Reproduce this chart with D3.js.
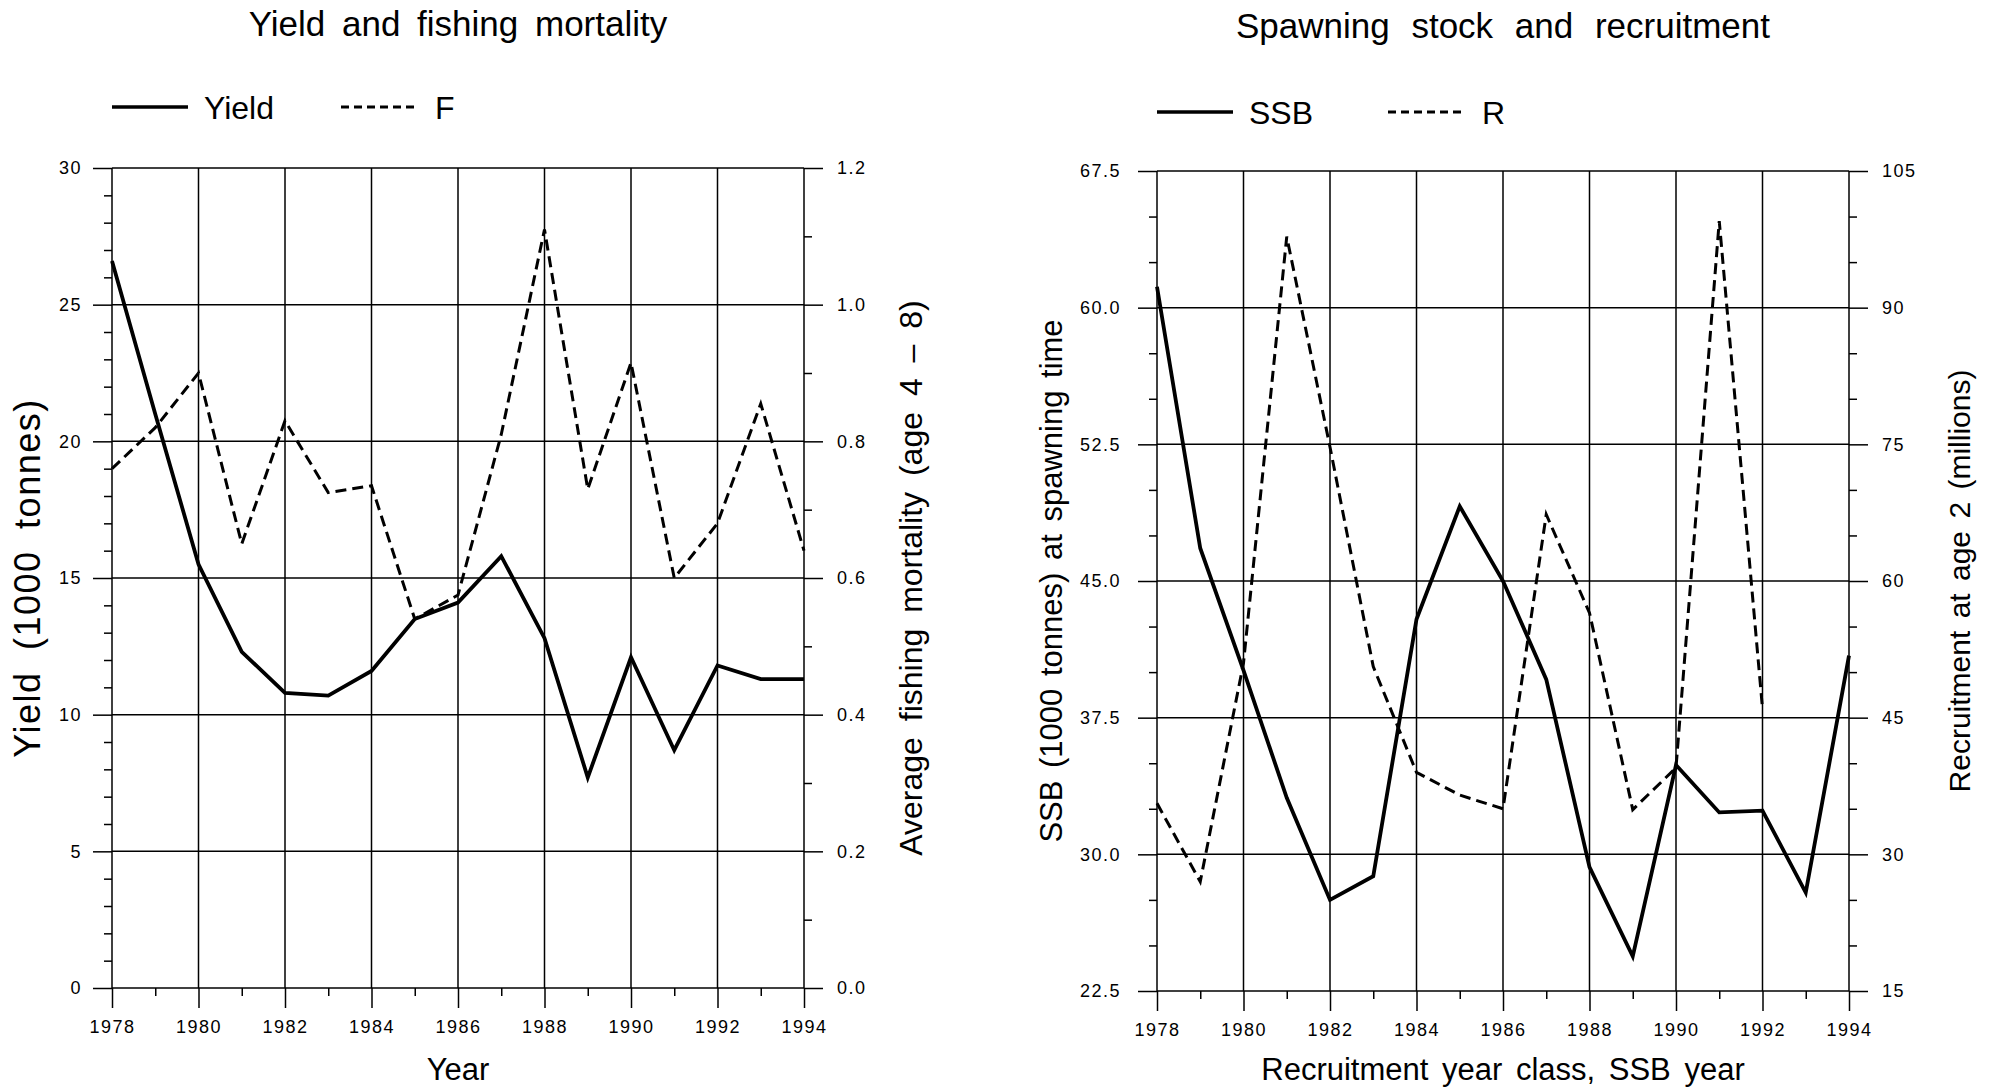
<!DOCTYPE html>
<html>
<head>
<meta charset="utf-8">
<script src="https://cdn.jsdelivr.net/npm/d3@7"></script>
<style>
  html, body { margin: 0; padding: 0; background: #fff; }
  svg { display: block; }
  .big { font-family: "Liberation Sans", Arial, sans-serif; fill: #000; }
  .tick text { font-family: "Liberation Sans", Arial, sans-serif; font-size: 18px; letter-spacing: 1.5px; fill: #000; }
  .tick line { stroke: #000; stroke-width: 1.5; }
  .grid { stroke: #000; stroke-width: 1.5; fill: none; }
</style>
</head>
<body>
<script>
// Years shared by both panels
const years = [1978, 1979, 1980, 1981, 1982, 1983, 1984, 1985, 1986, 1987, 1988, 1989, 1990, 1991, 1992, 1993, 1994];
const evenYears = [1978, 1980, 1982, 1984, 1986, 1988, 1990, 1992, 1994];
const oddYears = [1979, 1981, 1983, 1985, 1987, 1989, 1991, 1993];

// Yield (1000 tonnes) and average fishing mortality F (age 4-8)
const yieldValues = [26.6, 21.0, 15.5, 12.3, 10.8, 10.7, 11.6, 13.5, 14.1, 15.8, 12.8, 7.7, 12.1, 8.7, 11.8, 11.3, 11.3];
const fValues = [0.76, 0.82, 0.90, 0.65, 0.83, 0.725, 0.735, 0.54, 0.575, 0.81, 1.11, 0.73, 0.915, 0.60, 0.68, 0.855, 0.64];

// Spawning stock biomass (1000 tonnes) and recruitment at age 2 (millions)
const ssbValues = [61.15, 46.8, 40.1, 33.1, 27.5, 28.8, 42.9, 49.1, 45.0, 39.6, 29.3, 24.4, 34.9, 32.3, 32.4, 27.9, 40.9];
const recYears = [1978, 1979, 1980, 1981, 1982, 1983, 1984, 1985, 1986, 1987, 1988, 1989, 1990, 1991, 1992];
const recValues = [35.6, 27.0, 51.0, 97.8, 74.7, 50.6, 39.0, 36.5, 35.0, 67.3, 56.5, 34.9, 39.5, 99.5, 46.0];

// Axis ticks
const yieldMajor = [0, 5, 10, 15, 20, 25, 30];
const yieldMinor = [1, 2, 3, 4, 6, 7, 8, 9, 11, 12, 13, 14, 16, 17, 18, 19, 21, 22, 23, 24, 26, 27, 28, 29];
const fMajor = [0.0, 0.2, 0.4, 0.6, 0.8, 1.0, 1.2];
const fMinor = [0.1, 0.3, 0.5, 0.7, 0.9, 1.1];
const ssbMajor = [22.5, 30.0, 37.5, 45.0, 52.5, 60.0, 67.5];
const ssbMinor = [25, 27.5, 32.5, 35, 40, 42.5, 47.5, 50, 55, 57.5, 62.5, 65];
const recMajor = [15, 30, 45, 60, 75, 90, 105];
const recMinor = [20, 25, 35, 40, 50, 55, 65, 70, 80, 85, 95, 100];

const W = 1997, H = 1089;
const svg = d3.select("body").append("svg").attr("width", W).attr("height", H);

// text helper: f = {size, ws, ls}
function label(g, txt, x, y, f, anchor, rotate) {
  const t = g.append("text").attr("class", "big")
    .attr("font-size", f.size).attr("text-anchor", anchor || "middle")
    .attr("word-spacing", f.ws || 0).attr("letter-spacing", f.ls || 0).text(txt);
  if (rotate) t.attr("transform", `translate(${x},${y}) rotate(-90)`);
  else t.attr("x", x).attr("y", y);
  return t;
}

function panel(opt) {
  const g = svg.append("g");
  const x = d3.scaleLinear().domain([1978, 1994]).range([opt.x0, opt.x1]);
  const yL = d3.scaleLinear().domain(opt.leftDomain).range([opt.yBot, opt.yTop]);
  const yR = d3.scaleLinear().domain(opt.rightDomain).range([opt.yBot, opt.yTop]);

  // grid
  g.selectAll("line.h").data(opt.leftMajor).join("line").attr("class", "grid")
    .attr("x1", opt.x0).attr("x2", opt.x1).attr("y1", d => yL(d)).attr("y2", d => yL(d));
  g.selectAll("line.v").data(evenYears).join("line").attr("class", "grid")
    .attr("x1", d => x(d)).attr("x2", d => x(d)).attr("y1", opt.yTop).attr("y2", opt.yBot);

  // left axis: major ticks with labels, then minor ticks
  const la = g.append("g").attr("transform", `translate(${opt.x0},0)`)
    .call(d3.axisLeft(yL).tickValues(opt.leftMajor).tickSize(19).tickPadding(opt.leftPad).tickFormat(opt.leftFmt));
  la.select(".domain").remove();
  const lm = g.append("g").attr("transform", `translate(${opt.x0},0)`)
    .call(d3.axisLeft(yL).tickValues(opt.leftMinor).tickSize(8).tickFormat(""));
  lm.select(".domain").remove();

  // right axis
  const ra = g.append("g").attr("transform", `translate(${opt.x1},0)`)
    .call(d3.axisRight(yR).tickValues(opt.rightMajor).tickSize(19).tickPadding(14).tickFormat(opt.rightFmt));
  ra.select(".domain").remove();
  const rm = g.append("g").attr("transform", `translate(${opt.x1},0)`)
    .call(d3.axisRight(yR).tickValues(opt.rightMinor).tickSize(8).tickFormat(""));
  rm.select(".domain").remove();

  // bottom axis
  const ba = g.append("g").attr("transform", `translate(0,${opt.yBot})`)
    .call(d3.axisBottom(x).tickValues(evenYears).tickSize(20).tickPadding(12).tickFormat(d3.format("d")));
  ba.select(".domain").remove();
  const bm = g.append("g").attr("transform", `translate(0,${opt.yBot})`)
    .call(d3.axisBottom(x).tickValues(oddYears).tickSize(8).tickFormat(""));
  bm.select(".domain").remove();

  // series
  const solid = d3.line().x((d, i) => x(opt.solidYears[i])).y(d => yL(d));
  const dashed = d3.line().x((d, i) => x(opt.dashYears[i])).y(d => yR(d));
  g.append("path").datum(opt.dashValues).attr("d", dashed)
    .attr("fill", "none").attr("stroke", "#000").attr("stroke-width", 3)
    .attr("stroke-dasharray", "11,6").attr("stroke-linejoin", "miter");
  g.append("path").datum(opt.solidValues).attr("d", solid)
    .attr("fill", "none").attr("stroke", "#000").attr("stroke-width", 3.8)
    .attr("stroke-linejoin", "miter");

  // titles
  const midX = (opt.x0 + opt.x1) / 2;
  const midY = (opt.yTop + opt.yBot) / 2;
  label(g, opt.title, midX, opt.titleY, opt.titleFont);
  label(g, opt.xTitle, midX, 1080, opt.xTitleFont);
  label(g, opt.leftTitle, opt.leftTitleX, midY, opt.leftTitleFont, "middle", true);
  label(g, opt.rightTitle, opt.rightTitleX, midY, opt.rightTitleFont, "middle", true);

  // legend
  const ly = opt.legendY;
  const legendFont = { size: 32 };
  g.append("line").attr("x1", opt.x0).attr("x2", opt.x0 + 76).attr("y1", ly).attr("y2", ly)
    .attr("stroke", "#000").attr("stroke-width", 3.6);
  label(g, opt.solidName, opt.x0 + 92, ly + 12, legendFont, "start");
  g.append("line").attr("x1", opt.x0 + opt.dashLegendDx).attr("x2", opt.x0 + opt.dashLegendDx + 76)
    .attr("y1", ly).attr("y2", ly)
    .attr("stroke", "#000").attr("stroke-width", 3).attr("stroke-dasharray", "8,5");
  label(g, opt.dashName, opt.x0 + opt.dashLegendDx + 94, ly + 12, legendFont, "start");
}

panel({
  x0: 112, x1: 804, yTop: 168, yBot: 988,
  leftDomain: [0, 30], rightDomain: [0, 1.2],
  leftMajor: yieldMajor, leftMinor: yieldMinor, rightMajor: fMajor, rightMinor: fMinor,
  leftFmt: d3.format("d"), rightFmt: d3.format(".1f"), leftPad: 11,
  solidYears: years, solidValues: yieldValues, dashYears: years, dashValues: fValues,
  title: "Yield and fishing mortality", titleY: 36, titleFont: { size: 35, ws: 7 },
  xTitle: "Year", xTitleFont: { size: 31 },
  leftTitle: "Yield (1000 tonnes)", leftTitleX: 40, leftTitleFont: { size: 36, ws: 10, ls: 1.5 },
  rightTitle: "Average fishing mortality (age 4 \u2013 8)", rightTitleX: 922, rightTitleFont: { size: 32, ws: 7 },
  legendY: 107, solidName: "Yield", dashName: "F", dashLegendDx: 229
});

panel({
  x0: 1157, x1: 1849, yTop: 171, yBot: 991,
  leftDomain: [22.5, 67.5], rightDomain: [15, 105],
  leftMajor: ssbMajor, leftMinor: ssbMinor, rightMajor: recMajor, rightMinor: recMinor,
  leftFmt: d3.format(".1f"), rightFmt: d3.format("d"), leftPad: 17,
  solidYears: years, solidValues: ssbValues, dashYears: recYears, dashValues: recValues,
  title: "Spawning stock and recruitment", titleY: 38, titleFont: { size: 35, ws: 12 },
  xTitle: "Recruitment year class, SSB year", xTitleFont: { size: 31, ws: 5 },
  leftTitle: "SSB (1000 tonnes) at spawning time", leftTitleX: 1062, leftTitleFont: { size: 31, ws: 4 },
  rightTitle: "Recruitment at age 2 (millions)", rightTitleX: 1970, rightTitleFont: { size: 30, ws: 4 },
  legendY: 112, solidName: "SSB", dashName: "R", dashLegendDx: 231
});
</script>
</body>
</html>
